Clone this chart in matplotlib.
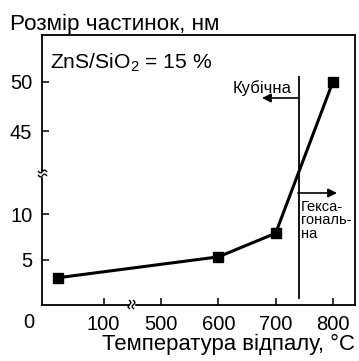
import numpy as np
import matplotlib
matplotlib.use("Agg")
import matplotlib.pyplot as plt
from matplotlib.lines import Line2D
from matplotlib.patches import Rectangle
from matplotlib.transforms import IdentityTransform

# Data
temps = [20, 600, 700, 800]
sizes = [3.0, 5.3, 7.9, 50.0]
xticks = [100, 500, 600, 700, 800]
yticks = [5, 10, 45, 50]
transition_temp = 740

plt.rcParams['font.family'] = ['Liberation Sans', 'DejaVu Sans']
plt.rcParams['mathtext.fontset'] = 'custom'
plt.rcParams['mathtext.rm'] = 'Liberation Sans'

# broken-axis scales
xp = [-1000, 150, 450, 3000]
xf = [-1000, 150, 150.3, 2700.3]
def fx(x):
    return np.interp(x, xp, xf)
def ix(x):
    return np.interp(x, xf, xp)

yp = [-100, 14.6, 41, 200]
yf = [-100, 14.6, 14.72, 19.1 + (200 - 45) * 1.095]
def fy(y):
    return np.interp(y, yp, yf)
def iy(y):
    return np.interp(y, yf, yp)

W, H = 359, 361
fig = plt.figure(figsize=(W / 100, H / 100), dpi=100)
L, R, B, T = 42, 355, 305, 35
ax = fig.add_axes([L / W, (H - B) / H, (R - L) / W, (B - T) / H])
ax.set_xscale('function', functions=(fx, ix))
ax.set_yscale('function', functions=(fy, iy))
ax.set_xlim(-7.7, 838.6)
ax.set_ylim(0, 54.7)

ax.plot(temps, sizes, color='black', lw=2.2, marker='s', markersize=7, zorder=3)
ax.axvline(transition_temp, ymin=0.026, ymax=0.844, color='black', lw=1.3)

for s in ax.spines.values():
    s.set_linewidth(1.3)

ax.set_xticks(xticks)
ax.set_xticklabels([str(t) for t in xticks])
ax.set_yticks(yticks)
ax.set_yticklabels([str(t) for t in yticks])
ax.minorticks_off()
ax.tick_params(direction='in', length=5, width=1.1, labelsize=14.5, pad=7)
ax.tick_params(axis='y', pad=7)

def axf(px, py):
    return ((px - L) / (R - L), (B - py) / (B - T))

# break marks (pixel space)
idt = IdentityTransform()
def tilde_h(cx, cy, w=8, a=1.4):
    t = np.linspace(-1, 1, 30)
    return cx + t * w / 2, (H - cy) + a * np.sin(np.pi * t)
def tilde_v(cx, cy, h=8, a=1.4):
    t = np.linspace(-1, 1, 30)
    return cx + a * np.sin(np.pi * t), (H - cy) + t * h / 2

fig.add_artist(Rectangle((40, H - 175.5), 6, 4, transform=idt, color='white',
                         zorder=10))
for cy in (171.5, 175.5):
    xs, ys = tilde_h(42.5, cy)
    fig.add_artist(Line2D(xs, ys, transform=idt, color='black', lw=1.0, zorder=11))
fig.add_artist(Rectangle((129.5, H - 308), 4, 6, transform=idt, color='white',
                         zorder=10))
for cx in (129.5, 133.5):
    xs, ys = tilde_v(cx, 304.5)
    fig.add_artist(Line2D(xs, ys, transform=idt, color='black', lw=1.0, zorder=11))

# annotations
ax.text(*axf(50, 68), 'ZnS/SiO$_\\mathregular{2}$ = 15 %', transform=ax.transAxes,
        ha='left', va='baseline', fontsize=15.2)
ax.text(*axf(292, 93), 'Кубічна', transform=ax.transAxes, ha='right',
        va='baseline', fontsize=12)
ax.text(*axf(301, 200), 'Гекса-\nгональ-\nна', transform=ax.transAxes, ha='left',
        va='top', fontsize=10.5, linespacing=0.95)
ax.annotate('', xy=axf(262, 98), xytext=axf(298, 98), xycoords='axes fraction',
            textcoords='axes fraction',
            arrowprops=dict(arrowstyle='-|>', mutation_scale=13, lw=1.2,
                            color='black', shrinkA=0, shrinkB=0))
ax.annotate('', xy=axf(337, 193), xytext=axf(298, 193), xycoords='axes fraction',
            textcoords='axes fraction',
            arrowprops=dict(arrowstyle='-|>', mutation_scale=13, lw=1.2,
                            color='black', shrinkA=0, shrinkB=0))

# labels
fig.text(10 / W, (H - 30) / H, 'Розмір частинок, нм', ha='left', va='baseline',
         fontsize=16.2)
fig.text(355 / W, (H - 350) / H, 'Температура відпалу, °C', ha='right',
         va='baseline', fontsize=15.9)
fig.text(29 / W, (H - 322) / H, '0', ha='center', va='center', fontsize=14.5)

fig.savefig('out.png', dpi=100)
